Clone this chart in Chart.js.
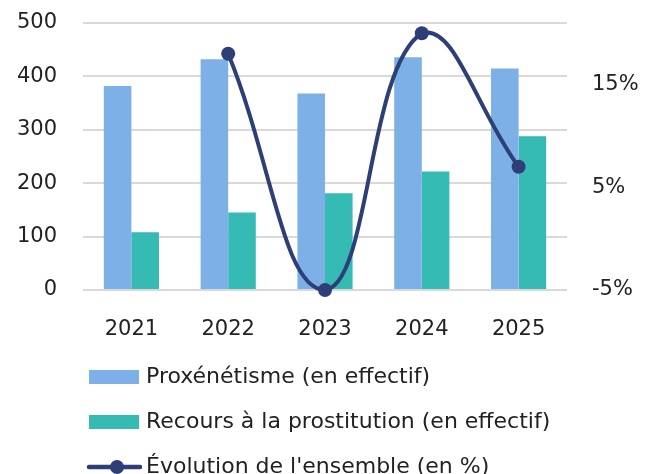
<!DOCTYPE html>
<html>
<head>
<meta charset="utf-8">
<script src="https://cdn.jsdelivr.net/npm/chart.js@4"></script>
<style>
  html, body { margin: 0; padding: 0; background: #fff; overflow: hidden; }
  #wrap { width: 651px; height: 488px; position: relative; }
</style>
</head>
<body>
<div id="wrap"><canvas id="chart"></canvas></div>
<script>
const years = ['2021', '2022', '2023', '2024', '2025']
const proxenetisme = [382, 432, 368, 436, 415]
const recours = [108, 145, 181, 222, 288]
const evolution = [null, 18, -5, 20, 7]
const leftTicks = [0, 100, 200, 300, 400, 500]
const rightTicks = [-5, 5, 15]

const BLUE = '#7cb0e7'
const TEAL = '#35bbb4'
const NAVY = '#2e3f78'
const FONT = 'DejaVu Sans'

// little canvases used as legend markers (mark sits on the right part of the canvas)
function legendMarker(kind, color){
  const c = document.createElement('canvas')
  c.width = 126; c.height = 18
  const g = c.getContext('2d')
  if(kind === 'bar'){
    g.fillStyle = color
    g.fillRect(73, 2, 50, 14)
  } else {
    g.strokeStyle = color
    g.lineWidth = 4.5
    g.lineCap = 'round'
    g.beginPath(); g.moveTo(73, 9); g.lineTo(124, 9); g.stroke()
    g.fillStyle = color
    g.beginPath(); g.arc(101, 9, 7, 0, Math.PI*2); g.fill()
  }
  return c
}
const markers = [legendMarker('bar', BLUE), legendMarker('bar', TEAL), legendMarker('line', NAVY)]

function noPad(s){ s.paddingTop = 0; s.paddingBottom = 0 }

new Chart(document.getElementById('chart'), {
  data: {
    labels: years,
    datasets: [
      {type: 'bar', label: 'Proxénétisme (en effectif)', data: proxenetisme, backgroundColor: BLUE, yAxisID: 'y', barPercentage: 1, categoryPercentage: 0.57, order: 1},
      {type: 'bar', label: 'Recours à la prostitution (en effectif)', data: recours, backgroundColor: TEAL, yAxisID: 'y', barPercentage: 1, categoryPercentage: 0.57, order: 1},
      {type: 'line', label: "Évolution de l'ensemble (en %)", data: evolution, borderColor: NAVY, backgroundColor: NAVY,
        borderWidth: 4, pointRadius: 7, pointBorderWidth: 0, pointHoverRadius: 7, tension: 0.45, yAxisID: 'y1', clip: false, order: 0}
    ]
  },
  options: {
    responsive: true,
    maintainAspectRatio: false,
    animation: false,
    layout: {padding: {top: 23, left: 0, right: 0, bottom: 0}},
    plugins: {
      tooltip: {enabled: false},
      legend: {
        position: 'bottom',
        align: 'start',
        labels: {
          usePointStyle: true,
          pointStyleWidth: 112,
          padding: 23,
          color: '#222',
          font: {family: FONT, size: 22},
          generateLabels: (chart)=> chart.data.datasets.map((ds, i)=>({
            text: ds.label, datasetIndex: i, pointStyle: markers[i],
            fillStyle: ds.backgroundColor, strokeStyle: ds.borderColor || ds.backgroundColor,
            lineWidth: 0, hidden: !chart.isDatasetVisible(i), fontColor: '#222'
          }))
        }
      }
    },
    scales: {
      x: {
        grid: {display: false, drawTicks: false},
        border: {display: false},
        ticks: {color: '#222', font: {family: FONT, size: 21}, padding: 27},
        afterFit: (s)=>{ s.height = 53 }
      },
      y: {
        position: 'left',
        min: 0, max: 500,
        afterBuildTicks: (s)=>{ s.ticks = leftTicks.map(v=>({value: v})) },
        grid: {color: '#d9d9d9', lineWidth: 2, drawTicks: false},
        border: {display: false},
        ticks: {color: '#222', font: {family: FONT, size: 21}, padding: 26},
        afterFit: (s)=>{ s.width = 83; noPad(s) }
      },
      y1: {
        position: 'right',
        min: -5, max: 21,
        afterBuildTicks: (s)=>{ s.ticks = rightTicks.map(v=>({value: v})) },
        grid: {display: false, drawTicks: false},
        border: {display: false},
        ticks: {color: '#222', font: {family: FONT, size: 21}, padding: 25, callback: (v)=> v + '%'},
        afterFit: (s)=>{ s.width = 84; noPad(s) }
      }
    }
  }
})
</script>
</body>
</html>
